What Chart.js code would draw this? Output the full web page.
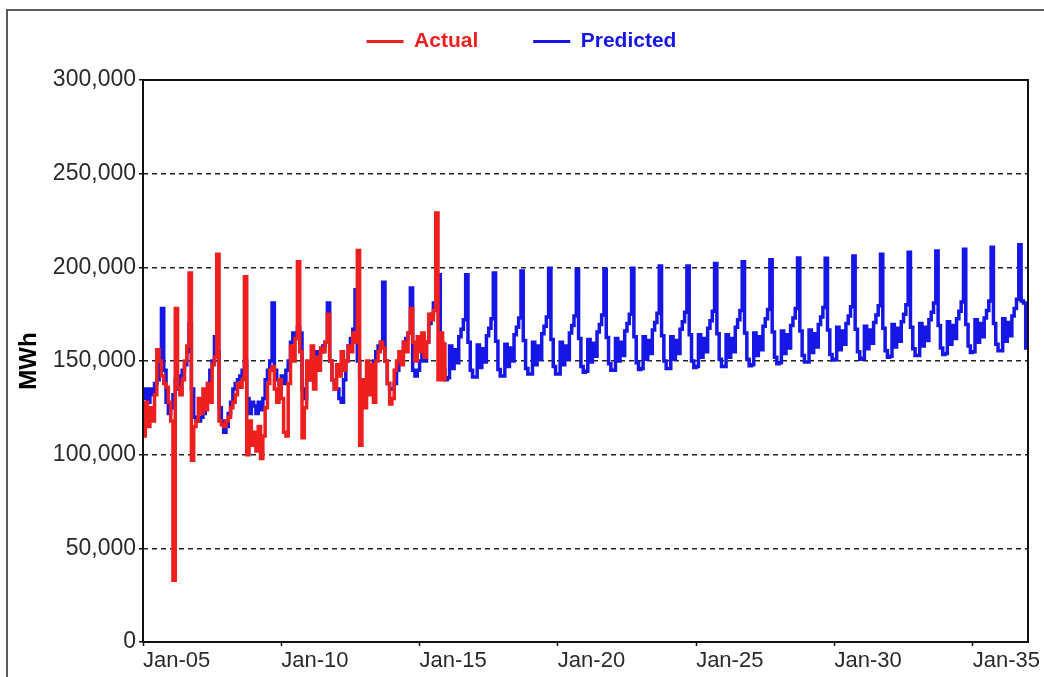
<!DOCTYPE html>
<html>
<head>
<meta charset="utf-8">
<script src="https://cdn.jsdelivr.net/npm/chart.js@4.4.0/dist/chart.umd.min.js"></script>
<style>
    html, body { margin: 0; padding: 0; background: #fff; }
</style>
</head>
<body>
<canvas id="myChart" width="1044" height="677"></canvas>
<script>
// Etiquetas del eje X (un tick cada 60 meses desde Jan-05)
var tickLabels = ['Jan-05', 'Jan-10', 'Jan-15', 'Jan-20', 'Jan-25', 'Jan-30', 'Jan-35'];

// Consumo real mensual (MWh), Jan-05 .. Dec-15
var actual = [
    110000, 128000, 115000, 125000, 118000, 132000, 156000, 150000, 142000, 138000, 136000, 128000, // 2005
    118000, 33000, 178000, 136000, 132000, 140000, 150000, 158000, 197000, 97000, 115000, 118000,   // 2006
    130000, 122000, 135000, 124000, 138000, 128000, 148000, 152000, 207000, 118000, 116000, 115000, // 2007
    118000, 120000, 125000, 128000, 132000, 138000, 136000, 140000, 195000, 100000, 118000, 105000, // 2008
    112000, 102000, 115000, 98000, 110000, 125000, 138000, 145000, 147000, 135000, 128000, 140000,  // 2009
    130000, 112000, 110000, 138000, 158000, 150000, 162000, 203000, 155000, 109000, 125000, 150000, // 2010
    140000, 158000, 135000, 152000, 145000, 157000, 155000, 160000, 175000, 150000, 140000, 135000, // 2011
    148000, 142000, 155000, 145000, 150000, 158000, 155000, 165000, 160000, 209000, 105000, 140000, // 2012
    125000, 150000, 132000, 148000, 128000, 150000, 155000, 160000, 157000, 150000, 138000, 127000, // 2013
    130000, 145000, 150000, 155000, 148000, 160000, 155000, 165000, 178000, 160000, 150000, 163000, // 2014
    155000, 165000, 152000, 160000, 175000, 172000, 177000, 229000, 140000, 165000, 140000, 160000  // 2015
];

// Consumo previsto mensual (MWh), Jan-05 .. Dec-36
var predicted = [
    130000, 135000, 128000, 135000, 132000, 138000, 140000, 150000, 178000, 145000, 128000, 122000, // 2005
    125000, 132000, 140000, 135000, 142000, 145000, 148000, 155000, 170000, 135000, 120000, 118000, // 2006
    118000, 120000, 122000, 130000, 138000, 145000, 150000, 163000, 155000, 125000, 118000, 112000, // 2007
    115000, 122000, 128000, 135000, 138000, 140000, 142000, 145000, 150000, 130000, 122000, 128000, // 2008
    126000, 122000, 128000, 124000, 130000, 140000, 145000, 150000, 181000, 145000, 140000, 138000, // 2009
    142000, 138000, 145000, 150000, 160000, 165000, 162000, 168000, 165000, 135000, 130000, 140000, // 2010
    140000, 148000, 150000, 155000, 150000, 155000, 158000, 160000, 181000, 150000, 140000, 135000, // 2011
    135000, 130000, 128000, 140000, 150000, 158000, 162000, 167000, 188000, 150000, 140000, 128000, // 2012
    135000, 140000, 138000, 145000, 150000, 155000, 158000, 160000, 192000, 150000, 138000, 135000, // 2013
    135000, 138000, 145000, 150000, 155000, 160000, 162000, 165000, 189000, 145000, 142000, 145000, // 2014
    150000, 155000, 150000, 160000, 170000, 175000, 181000, 180000, 196000, 160000, 145000, 140000, // 2015
    141000, 158000, 146000, 156000, 149000, 163000, 167000, 172000, 196000, 160000, 145000, 141500, // 2016
    141500, 158500, 146500, 156500, 149500, 163500, 167500, 172500, 197000, 160500, 145500, 142000, // 2017
    142000, 159000, 147000, 157000, 150000, 164000, 168000, 173000, 198000, 161000, 146000, 143000, // 2018
    143000, 160000, 148000, 158000, 151000, 164500, 168500, 173500, 199500, 161500, 147000, 143000, // 2019
    143000, 160000, 148000, 158000, 151000, 165000, 169000, 174000, 199000, 162000, 147000, 144000, // 2020
    144500, 161500, 149500, 159500, 152500, 165500, 169500, 174500, 199000, 162500, 148500, 145000, // 2021
    145000, 162000, 150000, 160000, 153000, 166000, 170000, 175000, 199500, 163000, 149000, 145500, // 2022
    146000, 163000, 151000, 161000, 154000, 166500, 170500, 175500, 200700, 163500, 150000, 146000, // 2023
    146000, 163000, 151000, 161000, 154000, 167000, 171000, 176000, 200700, 164000, 150000, 146500, // 2024
    147000, 164000, 152000, 162000, 155000, 167500, 171500, 176500, 202000, 164500, 151000, 147000, // 2025
    147000, 164000, 152000, 162000, 155000, 168000, 172000, 177000, 203000, 165000, 151000, 147500, // 2026
    148000, 165000, 153000, 163000, 156000, 168500, 172500, 177500, 204000, 165500, 152000, 148500, // 2027
    149000, 166000, 154000, 164000, 157000, 169000, 173000, 178000, 205000, 166000, 153000, 149500, // 2028
    149500, 166500, 154500, 164500, 157500, 169500, 173500, 178500, 204800, 166500, 153500, 150500, // 2029
    151000, 168000, 156000, 166000, 159000, 170000, 174000, 179000, 206000, 167000, 155000, 151000, // 2030
    151500, 168500, 156500, 166500, 159500, 170500, 174500, 179500, 207000, 167500, 155500, 152000, // 2031
    152500, 169500, 157500, 167500, 160500, 171000, 175000, 180000, 208000, 168000, 156500, 153000, // 2032
    153000, 170000, 158000, 168000, 161000, 172000, 176000, 181000, 208700, 169000, 157000, 153500, // 2033
    154000, 171000, 159000, 169000, 162000, 172500, 176500, 181500, 209600, 169500, 158000, 154500, // 2034
    155000, 172000, 160000, 170000, 163000, 173000, 177000, 182000, 210700, 170000, 159000, 155500, // 2035
    155500, 172500, 160500, 170500, 163500, 174000, 178000, 183000, 212000, 182000, 181000, 156000  // 2036
];

var seriesNames = ['Actual', 'Predicted'];
var seriesColors = ['#ee1f1f', '#1616e6'];

Chart.defaults.font.family = "'Liberation Sans', Arial, sans-serif";
Chart.defaults.color = '#2a2a2a';

// Marco exterior y recuadro del area del grafico
var framePlugin = {
    id: 'frame',
    beforeDraw: function(chart) {
        var c = chart.ctx;
        c.save();
        c.fillStyle = '#fff';
        c.fillRect(0, 0, chart.width, chart.height);
        c.strokeStyle = '#5a5a5a';
        c.lineWidth = 2;
        c.beginPath();
        c.moveTo(7, chart.height);
        c.lineTo(7, 10);
        c.lineTo(chart.width, 10);
        c.stroke();
        c.restore();
    },
    afterDraw: function(chart) {
        var a = chart.chartArea;
        var c = chart.ctx;
        c.save();
        c.strokeStyle = '#111';
        c.lineWidth = 2;
        c.strokeRect(a.left, a.top, a.right - a.left, a.bottom - a.top);
        c.restore();
    }
};

function toPoints(values) {
    return values.map(function(v, i) { return { x: i, y: v }; });
}

var ctx = document.getElementById('myChart').getContext('2d');
var chart = new Chart(ctx, {
    type: 'line',
    data: {
        datasets: [{
            label: seriesNames[0],
            data: toPoints(actual),
            borderColor: seriesColors[0],
            backgroundColor: seriesColors[0],
            borderWidth: 3.5,
            pointRadius: 0,
            stepped: true
        }, {
            label: seriesNames[1],
            data: toPoints(predicted),
            borderColor: seriesColors[1],
            backgroundColor: seriesColors[1],
            borderWidth: 3.5,
            pointRadius: 0,
            stepped: true
        }]
    },
    options: {
        responsive: false,
        animation: false,
        devicePixelRatio: 1,
        layout: { padding: { top: -24, left: 15, right: 16, bottom: 0 } },
        plugins: {
            tooltip: { enabled: false },
            legend: {
                position: 'top',
                labels: {
                    boxWidth: 37,
                    boxHeight: 3,
                    padding: 55,
                    font: { size: 21, weight: 'bold' },
                    generateLabels: function(chart) {
                        return chart.data.datasets.map(function(ds, i) {
                            return {
                                text: ds.label,
                                fillStyle: ds.borderColor,
                                strokeStyle: ds.borderColor,
                                fontColor: ds.borderColor,
                                lineWidth: 0,
                                hidden: false,
                                datasetIndex: i
                            };
                        });
                    }
                }
            }
        },
        scales: {
            x: {
                type: 'linear',
                min: 0,
                max: 384,
                border: { display: false },
                grid: { drawOnChartArea: false, drawTicks: true, tickLength: 4, tickColor: '#111', tickWidth: 1.5 },
                ticks: {
                    stepSize: 60,
                    includeBounds: false,
                    autoSkip: false,
                    maxRotation: 0,
                    align: 'start',
                    padding: 2,
                    font: { size: 22 },
                    callback: function(value) { return tickLabels[value / 60]; }
                },
                afterFit: function(scale) {
                    scale.height = 35;
                    scale.paddingLeft = 0;
                    scale.paddingRight = 0;
                }
            },
            // eje vacio solo para dejar espacio bajo la leyenda
            x2: {
                type: 'linear',
                position: 'top',
                display: true,
                border: { display: false },
                grid: { display: false, drawTicks: false },
                ticks: { display: false },
                afterFit: function(scale) { scale.height = 18; }
            },
            y: {
                min: 0,
                max: 300000,
                border: { display: false, dash: [5, 4] },
                grid: {
                    color: function(c) {
                        return (c.tick.value === 0 || c.tick.value === 300000) ? 'rgba(0,0,0,0)' : '#222';
                    },
                    lineWidth: 1.5,
                    tickLength: 4,
                    tickColor: '#111',
                    tickWidth: 1.5
                },
                ticks: {
                    stepSize: 50000,
                    padding: 3,
                    font: { size: 23 },
                    callback: function(value) { return value.toLocaleString('en-US'); }
                },
                title: {
                    display: true,
                    text: 'MWh',
                    color: '#000',
                    font: { size: 24, weight: 'bold' },
                    padding: { top: 0, bottom: 0 }
                },
                afterFit: function(scale) { scale.width = 128; }
            }
        }
    },
    plugins: [framePlugin]
});
</script>
</body>
</html>
